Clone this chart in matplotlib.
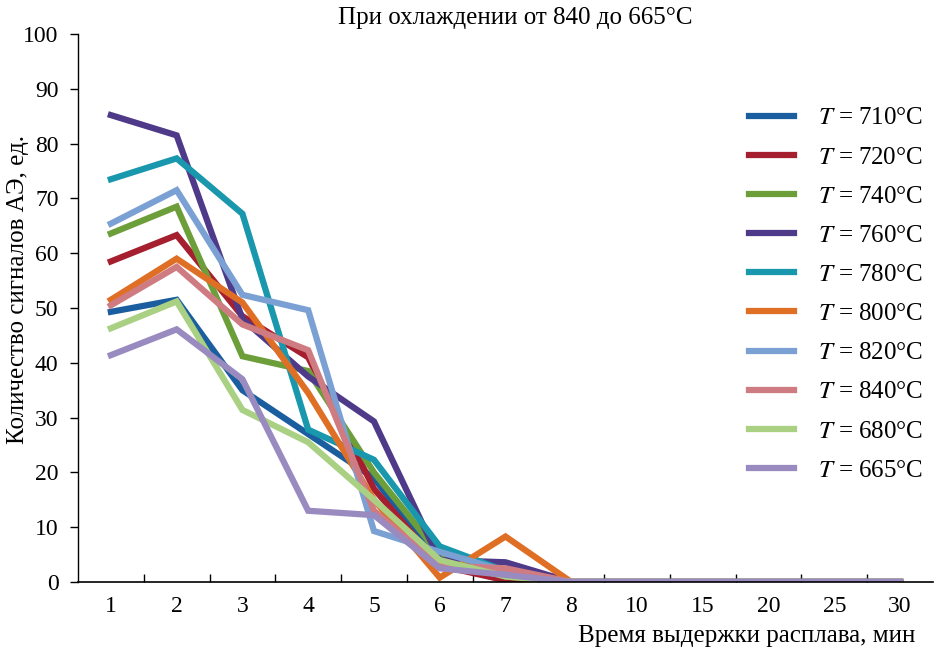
import numpy as np
import matplotlib
matplotlib.use("Agg")
import matplotlib.pyplot as plt

plt.rcParams['font.family'] = ['Liberation Serif', 'DejaVu Serif']
plt.rcParams['mathtext.fontset'] = 'stix'

times = ["1", "2", "3", "4", "5", "6", "7", "8", "10", "15", "20", "25", "30"]

t710 = [49.3, 51.5, 35.0, 27.0, 19.0, 3.0, 1.0, 0, 0, 0, 0, 0, 0]
t720 = [58.5, 63.3, 48.5, 41.0, 17.0, 3.0, 0.3, 0, 0, 0, 0, 0, 0]
t740 = [63.6, 68.5, 41.2, 38.5, 20.0, 5.0, 1.0, 0, 0, 0, 0, 0, 0]
t760 = [85.2, 81.5, 48.0, 37.5, 29.3, 4.0, 3.6, 0, 0, 0, 0, 0, 0]
t780 = [73.5, 77.3, 67.2, 27.8, 22.3, 6.5, 2.0, 0, 0, 0, 0, 0, 0]
t800 = [51.5, 59.0, 51.0, 34.5, 15.0, 0.8, 8.3, 0, 0, 0, 0, 0, 0]
t820 = [65.4, 71.5, 52.4, 49.6, 9.3, 5.5, 2.0, 0, 0, 0, 0, 0, 0]
t840 = [50.5, 57.5, 47.0, 42.3, 13.0, 3.0, 2.5, 0, 0, 0, 0, 0, 0]
t680 = [46.3, 51.2, 31.4, 25.5, 15.0, 4.0, 1.0, 0, 0, 0, 0, 0, 0]
t665 = [41.4, 46.1, 37.0, 13.0, 12.2, 2.5, 1.3, 0, 0, 0, 0, 0, 0]

series = [
    ("710", t710, "#1b5e9f"),
    ("720", t720, "#a61f2e"),
    ("740", t740, "#6c9e3a"),
    ("760", t760, "#4f3a8a"),
    ("780", t780, "#1897ad"),
    ("800", t800, "#e06f26"),
    ("820", t820, "#7aa0d4"),
    ("840", t840, "#cf7b82"),
    ("680", t680, "#a9d083"),
    ("665", t665, "#998bbf"),
]

fig = plt.figure(figsize=(9.34, 6.5), dpi=100)
ax = fig.add_axes([78 / 934, 1 - 582 / 650, 855 / 934, 548 / 650])

x = np.arange(len(times))
for name, vals, col in series:
    ax.plot(x, vals, color=col, lw=4.5, solid_joinstyle='miter',
            label=r"$T$ = " + name + "°C")

ax.set_xlim(-0.5, len(times) - 0.5)
ax.set_ylim(0, 100)
ax.set_yticks(np.arange(0, 101, 10))
ax.set_xticks(x)
ax.set_xticklabels(times)
ax.set_xticks(np.arange(0.5, len(times) - 1, 1), minor=True)
ax.tick_params(axis='x', which='major', length=0, labelsize=17, pad=10)
ax.tick_params(axis='x', which='minor', direction='in', length=6, width=1)
ax.tick_params(axis='y', direction='out', length=6, width=1, labelsize=17, pad=8)
for s in ['top', 'right']:
    ax.spines[s].set_visible(False)
ax.spines['left'].set_linewidth(1)
ax.spines['bottom'].set_linewidth(1.2)

fig.text(18 / 934, 1 - 290 / 650, "Количество сигналов АЭ, ед.", fontsize=18,
         rotation=90, ha='center', va='center')
fig.text(915 / 934, 1 - 636 / 650, "Время выдержки расплава, мин",
         fontsize=18, ha='right', va='center')
fig.text(515 / 934, 1 - 18 / 650, "При охлаждении от 840 до 665°C",
         fontsize=18, ha='center', va='center')

leg = ax.legend(loc='upper left', bbox_to_anchor=(749 / 934, 1 - 107 / 650),
                bbox_transform=fig.transFigure,
                frameon=False, fontsize=18, handlelength=1.8, handletextpad=0.95,
                labelspacing=0.665, borderaxespad=0, borderpad=0)

fig.savefig("out.png", dpi=100)
